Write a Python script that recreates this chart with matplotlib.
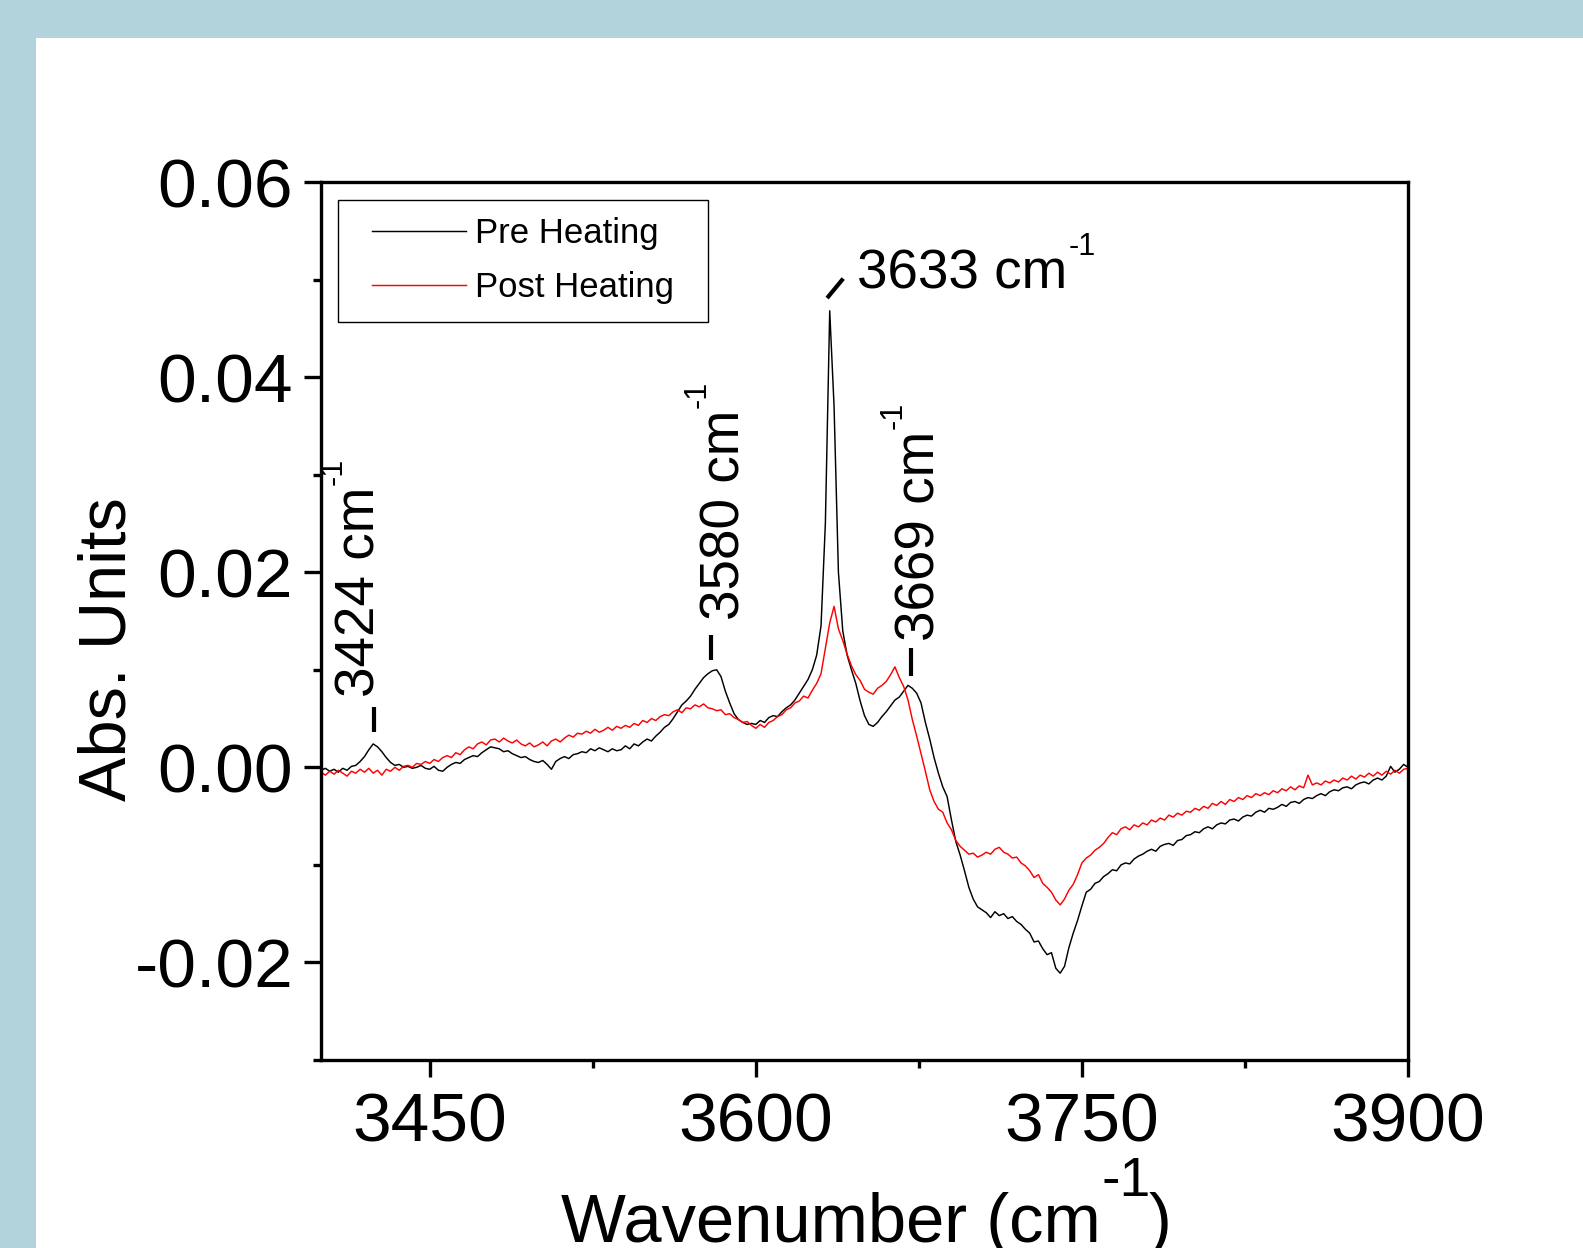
import numpy as np
import matplotlib
matplotlib.use('Agg')
import matplotlib.pyplot as plt
from matplotlib.patches import Rectangle
from matplotlib.lines import Line2D
from matplotlib.legend_handler import HandlerLine2D
from matplotlib.ticker import MultipleLocator, FormatStrFormatter

plt.rcParams['font.family'] = ['Liberation Sans', 'DejaVu Sans']
plt.rcParams['axes.unicode_minus'] = False

# spectra, absorbance in units of 1e-3, every 2 cm-1
wavenumber = np.arange(3400, 3902, 2)

pre_heating = np.array([
    -0.3, -0.1, -0.4, -0.2, -0.5, -0.1, -0.3, 0.1, 0.2, 0.6,
    1.1, 1.8, 2.4, 2.1, 1.6, 1.0, 0.5, 0.2, 0.3, 0.0,
    0.1, -0.1, 0.0, 0.2, -0.1, -0.2, 0.1, -0.3, -0.4, 0.0,
    0.3, 0.5, 0.4, 0.8, 1.0, 1.2, 1.1, 1.5, 1.8, 2.1,
    2.0, 1.9, 1.6, 1.7, 1.4, 1.2, 1.0, 1.1, 0.8, 0.6,
    0.5, 0.7, 0.3, -0.2, 0.6, 0.9, 1.1, 0.9, 1.3, 1.4,
    1.6, 1.5, 1.9, 1.7, 2.0, 1.8, 1.6, 1.9, 1.7, 1.8,
    2.2, 1.9, 2.4, 2.2, 2.6, 2.9, 2.7, 3.2, 3.6, 4.1,
    4.4, 5.0, 5.7, 6.4, 6.8, 7.3, 8.0, 8.6, 9.2, 9.6,
    9.9, 10.0, 9.3, 7.8, 6.6, 5.5, 4.9, 4.6, 4.4, 4.5,
    4.4, 4.8, 4.6, 5.1, 5.3, 5.2, 5.7, 6.1, 6.4, 6.9,
    7.6, 8.3, 9.0, 10.0, 11.5, 14.5, 25.0, 46.8, 37.0, 20.0,
    14.0, 11.5, 10.0, 8.6, 6.8, 5.3, 4.4, 4.2, 4.6, 5.2,
    5.7, 6.3, 6.9, 7.2, 7.8, 8.4, 8.1, 7.6, 6.6, 4.6,
    2.9, 1.0, -0.6, -2.0, -3.0, -5.4, -7.6, -9.0, -10.6, -12.3,
    -13.5, -14.3, -14.6, -14.9, -15.4, -14.8, -15.2, -15.0, -15.5, -15.3,
    -15.8, -16.1, -16.6, -17.0, -17.9, -17.8, -18.6, -19.2, -19.0, -20.6,
    -21.1, -20.4, -18.5, -17.0, -15.7, -14.2, -12.8, -12.5, -11.9, -11.7,
    -11.2, -10.9, -10.5, -10.6, -10.0, -9.8, -9.9, -9.4, -9.1, -8.9,
    -8.6, -8.4, -8.6, -8.1, -7.9, -7.8, -8.0, -7.5, -7.4, -7.0,
    -6.9, -6.6, -6.7, -6.3, -6.1, -6.3, -5.9, -5.7, -5.8, -5.4,
    -5.3, -5.5, -5.1, -4.9, -5.0, -4.6, -4.4, -4.6, -4.2, -4.3,
    -4.1, -3.8, -4.0, -3.6, -3.5, -3.7, -3.3, -3.1, -3.2, -2.9,
    -2.7, -2.9, -2.5, -2.3, -2.4, -2.1, -2.0, -2.2, -1.8, -1.6,
    -1.5, -1.7, -1.3, -1.1, -1.3, -0.9, 0.1, -0.5, -0.2, 0.3,
    0.0]) * 1e-3

post_heating = np.array([
    -0.5, -0.8, -0.4, -0.7, -0.3, -0.6, -0.9, -0.4, -0.6, -0.2,
    -0.5, -0.1, -0.6, -0.3, -0.8, -0.2, -0.4, 0.0, -0.3, 0.1,
    0.2, 0.0, 0.4, 0.3, 0.6, 0.4, 0.8, 0.6, 1.0, 1.2,
    1.0, 1.5, 1.3, 1.8, 2.1, 1.9, 2.4, 2.6, 2.3, 2.8,
    2.9, 2.6, 3.0, 2.7, 2.5, 2.8, 2.4, 2.2, 2.5, 2.1,
    2.3, 2.6, 2.2, 2.7, 2.9, 2.6, 3.0, 3.3, 3.1, 3.5,
    3.4, 3.7, 3.5, 3.9, 3.6, 3.8, 4.1, 3.8, 4.2, 4.0,
    4.3, 4.1, 4.5, 4.3, 4.8, 4.6, 5.0, 4.8, 5.2, 5.4,
    5.3, 5.7, 5.9, 5.6, 6.1, 6.0, 6.4, 6.2, 6.5, 6.1,
    6.0, 5.8, 5.9, 5.4, 5.5, 5.1, 4.9, 4.6, 4.7, 4.3,
    4.0, 4.4, 4.1, 4.6, 4.8, 5.2, 5.4, 5.9, 6.1, 6.6,
    6.8, 7.3, 7.1, 7.9, 8.6, 9.6, 12.2, 14.8, 16.5, 14.2,
    13.0, 11.6, 10.4, 9.5, 8.9, 8.0, 7.7, 7.5, 8.1, 8.4,
    8.8, 9.5, 10.3, 9.2, 8.3, 6.9, 4.9, 3.2, 1.4, -0.4,
    -2.3, -3.5, -4.3, -4.6, -5.7, -6.4, -7.5, -8.1, -8.5, -8.9,
    -8.8, -9.2, -9.0, -8.7, -8.9, -8.4, -8.2, -8.7, -8.9, -9.3,
    -9.2, -9.8, -10.1, -10.6, -11.3, -11.0, -11.9, -12.3, -12.8, -13.6,
    -14.1, -13.5, -12.6, -12.0, -11.0, -9.8, -9.3, -9.0, -8.5, -8.2,
    -7.8, -7.2, -6.7, -6.9, -6.3, -6.1, -6.4, -5.9, -6.1, -5.7,
    -5.9, -5.4, -5.6, -5.2, -5.4, -4.9, -5.1, -4.7, -4.9, -4.5,
    -4.6, -4.2, -4.4, -4.0, -4.2, -3.7, -3.9, -3.5, -3.8, -3.3,
    -3.5, -3.1, -3.3, -2.9, -3.1, -2.7, -2.9, -2.6, -2.8, -2.4,
    -2.6, -2.2, -2.4, -2.0, -2.3, -1.9, -2.1, -0.8, -1.8, -1.6,
    -1.8, -1.4, -1.6, -1.3, -1.5, -1.1, -1.3, -0.9, -1.2, -0.8,
    -1.0, -0.6, -0.9, -0.5, -0.8, -0.4, -0.7, -0.3, -0.6, -0.2,
    -0.1]) * 1e-3

series_names = ['Pre Heating', 'Post Heating']
series_colors = ['black', '#ff0000']

x_ticks = [3450, 3600, 3750, 3900]
y_ticks = [-0.02, 0.00, 0.02, 0.04, 0.06]

# peak labels: text, anchor (wavenumber, abs), rotation
peak_labels = ['3424', '3580', '3633', '3669']
label_anchor = [(3424.8, 0.0072), (3592.3, 0.0151), (3646.5, 0.0491), (3682.4, 0.0130)]
label_rotation = [90, 90, 0, 90]
# short leader marks next to the labels
leader_x = [(3424.5, 3424.5), (3579.6, 3579.6), (3632.8, 3640.2), (3671.6, 3671.6)]
leader_y = [(0.0036, 0.0062), (0.0110, 0.0136), (0.0481, 0.0501), (0.0094, 0.0122)]

W, H = 1583, 1248
fig = plt.figure(figsize=(W / 100, H / 100), dpi=100, facecolor='#b2d3db')
fig.add_artist(Rectangle((36 / W, 0), 1 - 36 / W, 1 - 38 / H,
                         transform=fig.transFigure, facecolor='white',
                         edgecolor='none', zorder=0))

ax = fig.add_axes([321 / W, 1 - 1060 / H, (1408 - 321) / W, (1060 - 182) / H])
ax.set_facecolor('white')

for vals, name, col in zip([pre_heating, post_heating], series_names, series_colors):
    ax.plot(wavenumber, vals, color=col, lw=1.05, label=name)

ax.set_xlim(3400, 3900)
ax.set_ylim(-0.03, 0.06)
ax.set_xticks(x_ticks)
ax.set_yticks(y_ticks)
ax.xaxis.set_minor_locator(MultipleLocator(75))
ax.yaxis.set_minor_locator(MultipleLocator(0.01))
ax.xaxis.set_major_formatter(FormatStrFormatter('%d'))
ax.yaxis.set_major_formatter(FormatStrFormatter('%.2f'))

for sp in ax.spines.values():
    sp.set_linewidth(2.4)
ax.tick_params(which='both', direction='out', width=2.4, top=False, right=False)
ax.tick_params(which='major', length=12, labelsize=50)
ax.tick_params(axis='x', which='major', pad=11)
ax.tick_params(axis='y', which='major', pad=8)
ax.tick_params(which='minor', length=6)

leg = ax.legend(loc='upper left', bbox_to_anchor=(0.0156, 0.0, 0.3404, 0.9795),
                mode='expand', borderaxespad=0, fontsize=25, borderpad=0.5,
                handlelength=3.19, handletextpad=0.26, labelspacing=0.6,
                fancybox=False, framealpha=1, edgecolor='black',
                handler_map={Line2D: HandlerLine2D(xpad=0.48)})
leg.get_frame().set_linewidth(1.0)

renderer = fig.canvas.get_renderer()

for txt, (px, py), rot, lx, ly in zip(peak_labels, label_anchor, label_rotation,
                                      leader_x, leader_y):
    ax.plot(lx, ly, color='black', lw=3.0, solid_capstyle='butt')
    t = ax.annotate(txt + ' cm', xy=(px, py), rotation=rot, rotation_mode='anchor',
                    ha='left', va='baseline', fontsize=39.5)
    bb = t.get_window_extent(renderer)
    length = (bb.height if rot else bb.width) * 72 / fig.dpi
    off = (-24, length + 1) if rot else (length + 1, 24)
    ax.annotate('-1', xy=(px, py), xytext=off, textcoords='offset points',
                rotation=rot, rotation_mode='anchor', ha='left', va='baseline',
                fontsize=22)

# axis titles, placed in figure pixels
fig.text(126 / W, 1 - 649 / H, 'Abs. Units', fontsize=48, rotation=90,
         rotation_mode='anchor', ha='center', va='baseline')
fig.text(561 / W, 1 - 1242 / H, 'Wavenumber (cm', fontsize=49.5, ha='left', va='baseline')
fig.text(1101 / W, 1 - 1196 / H, '-1', fontsize=40, ha='left', va='baseline')
fig.text(1149 / W, 1 - 1242 / H, ')', fontsize=49.5, ha='left', va='baseline')

fig.savefig('out.png', dpi=100, facecolor=fig.get_facecolor())
